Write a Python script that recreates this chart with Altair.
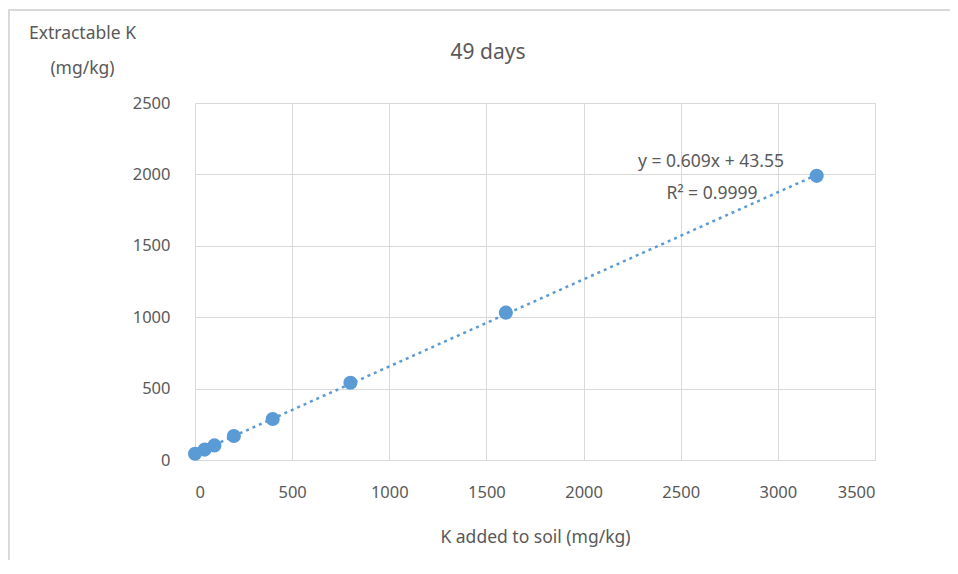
import altair as alt
import pandas as pd

k_added = [0, 50, 100, 200, 400, 800, 1600, 3200]
extractable_k = [44, 73, 102, 168, 287, 541, 1032, 1990]
x_ticks = [0, 500, 1000, 1500, 2000, 2500, 3000, 3500]
y_ticks = [0, 500, 1000, 1500, 2000, 2500]
equation = "y = 0.609x + 43.55"
r_squared = "R² = 0.9999"
chart_title = "49 days"

df = pd.DataFrame({"x": k_added, "y": extractable_k})

FONT = "Noto Sans"
GREY = "#595959"
BLUE = "#5b9bd5"
GRID = "#d9d9d9"

x_enc = alt.X("x:Q", scale=alt.Scale(domain=[0, 3500], nice=False),
              axis=alt.Axis(values=x_ticks, format="d", title="K added to soil (mg/kg)",
                            grid=True, gridColor=GRID, domain=False, ticks=False,
                            labelPadding=24, labelFontSize=16.5, labelColor=GREY,
                            labelFont=FONT, titleFont=FONT, titleFontSize=17.5,
                            titleFontWeight="normal", titleColor=GREY,
                            titleY=77, titleBaseline="middle"))
y_enc = alt.Y("y:Q", scale=alt.Scale(domain=[0, 2500], nice=False),
              axis=alt.Axis(values=y_ticks, format="d", title=["Extractable K", "(mg/kg)"],
                            grid=True, gridColor=GRID, domain=False, ticks=False,
                            labelPadding=25, labelFontSize=16.5, labelColor=GREY,
                            labelFont=FONT, titleFont=FONT, titleFontSize=17.5,
                            titleFontWeight="normal", titleColor=GREY,
                            titleAngle=0, titleX=-113, titleY=-70,
                            titleAlign="center", titleBaseline="middle",
                            titleLineHeight=35))

trend = alt.Chart(df).transform_regression(
    "x", "y", extent=[0, 3200]
).mark_line(color=BLUE, strokeWidth=2.5, strokeDash=[3, 4]).encode(x=x_enc, y=y_enc)

points = alt.Chart(df).mark_point(filled=True, size=200, color=BLUE, opacity=1).encode(
    x="x:Q", y="y:Q")

ann_df = pd.DataFrame({"t": [equation, r_squared], "px": [516, 517], "py": [59, 91]})
ann = alt.Chart(ann_df).mark_text(font=FONT, fontSize=17.5, color=GREY, align="center",
                                  baseline="middle").encode(
    x=alt.X("px:Q", scale=None), y=alt.Y("py:Q", scale=None), text="t:N")

title_df = pd.DataFrame({"t": [chart_title]})
title = alt.Chart(title_df).mark_text(font=FONT, fontSize=21, color=GREY, align="center",
                                      baseline="middle").encode(
    x=alt.value(293), y=alt.value(-50), text="t:N")

border_left = alt.Chart(df).mark_rule(color=GRID, strokeWidth=2).encode(
    x=alt.value(-186), y=alt.value(-93), y2=alt.value(480))
border_top = alt.Chart(df).mark_rule(color=GRID, strokeWidth=2).encode(
    x=alt.value(-187), x2=alt.value(760), y=alt.value(-93))

chart = alt.layer(trend, points, ann, title, border_left, border_top).properties(
    width=680, height=357,
    autosize=alt.AutoSizeParams(type="none"),
    padding={"left": 187, "top": 95, "right": 75, "bottom": 100},
).configure_view(stroke=None)

chart.save("out.html", embed_options={"renderer": "svg", "actions": False})
